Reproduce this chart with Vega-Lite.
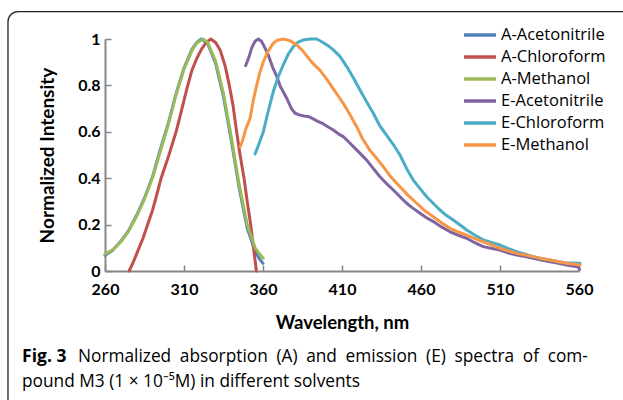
{
  "$schema": "https://vega.github.io/schema/vega-lite/v6.json",
  "width": 474,
  "height": 232,
  "autosize": "none",
  "padding": {"left": 105, "top": 39, "right": 44, "bottom": 129},
  "background": "white",
  "config": {"view": {"stroke": null}, "font": "Lato"},
  "data": {"values": [
    {"s":"A-Acetonitrile","w":260,"v":0.068},{"s":"A-Acetonitrile","w":265,"v":0.09},{"s":"A-Acetonitrile","w":270,"v":0.128},{"s":"A-Acetonitrile","w":275,"v":0.175},{"s":"A-Acetonitrile","w":280,"v":0.24},{"s":"A-Acetonitrile","w":285,"v":0.315},{"s":"A-Acetonitrile","w":290,"v":0.405},{"s":"A-Acetonitrile","w":295,"v":0.525},{"s":"A-Acetonitrile","w":300,"v":0.635},{"s":"A-Acetonitrile","w":305,"v":0.765},{"s":"A-Acetonitrile","w":310,"v":0.875},{"s":"A-Acetonitrile","w":315,"v":0.955},{"s":"A-Acetonitrile","w":318,"v":0.985},{"s":"A-Acetonitrile","w":321,"v":1.0},{"s":"A-Acetonitrile","w":325,"v":0.98},{"s":"A-Acetonitrile","w":330,"v":0.895},{"s":"A-Acetonitrile","w":335,"v":0.75},{"s":"A-Acetonitrile","w":340,"v":0.56},{"s":"A-Acetonitrile","w":345,"v":0.355},{"s":"A-Acetonitrile","w":350,"v":0.185},{"s":"A-Acetonitrile","w":355,"v":0.085},{"s":"A-Acetonitrile","w":358,"v":0.05},{"s":"A-Acetonitrile","w":360,"v":0.033},
    {"s":"A-Chloroform","w":275.3,"v":0.0},{"s":"A-Chloroform","w":278,"v":0.04},{"s":"A-Chloroform","w":281,"v":0.09},{"s":"A-Chloroform","w":284,"v":0.14},{"s":"A-Chloroform","w":287,"v":0.2},{"s":"A-Chloroform","w":290,"v":0.26},{"s":"A-Chloroform","w":293,"v":0.335},{"s":"A-Chloroform","w":295.5,"v":0.4},{"s":"A-Chloroform","w":300,"v":0.49},{"s":"A-Chloroform","w":305,"v":0.6},{"s":"A-Chloroform","w":308,"v":0.68},{"s":"A-Chloroform","w":312,"v":0.79},{"s":"A-Chloroform","w":315,"v":0.865},{"s":"A-Chloroform","w":318,"v":0.915},{"s":"A-Chloroform","w":321,"v":0.955},{"s":"A-Chloroform","w":324,"v":0.985},{"s":"A-Chloroform","w":327,"v":1.0},{"s":"A-Chloroform","w":330,"v":0.985},{"s":"A-Chloroform","w":333,"v":0.95},{"s":"A-Chloroform","w":336,"v":0.885},{"s":"A-Chloroform","w":338.7,"v":0.8},{"s":"A-Chloroform","w":341,"v":0.715},{"s":"A-Chloroform","w":343.3,"v":0.6},{"s":"A-Chloroform","w":345.5,"v":0.5},{"s":"A-Chloroform","w":348,"v":0.4},{"s":"A-Chloroform","w":350,"v":0.3},{"s":"A-Chloroform","w":352.2,"v":0.2},{"s":"A-Chloroform","w":354,"v":0.1},{"s":"A-Chloroform","w":355.8,"v":0.0},
    {"s":"A-Methanol","w":260,"v":0.073},{"s":"A-Methanol","w":265,"v":0.092},{"s":"A-Methanol","w":270,"v":0.125},{"s":"A-Methanol","w":275,"v":0.172},{"s":"A-Methanol","w":280,"v":0.235},{"s":"A-Methanol","w":285,"v":0.31},{"s":"A-Methanol","w":290,"v":0.4},{"s":"A-Methanol","w":295,"v":0.515},{"s":"A-Methanol","w":300,"v":0.63},{"s":"A-Methanol","w":305,"v":0.76},{"s":"A-Methanol","w":310,"v":0.87},{"s":"A-Methanol","w":315,"v":0.95},{"s":"A-Methanol","w":318,"v":0.982},{"s":"A-Methanol","w":322,"v":1.0},{"s":"A-Methanol","w":325,"v":0.985},{"s":"A-Methanol","w":330,"v":0.905},{"s":"A-Methanol","w":335,"v":0.765},{"s":"A-Methanol","w":340,"v":0.575},{"s":"A-Methanol","w":345,"v":0.37},{"s":"A-Methanol","w":350,"v":0.2},{"s":"A-Methanol","w":355,"v":0.1},{"s":"A-Methanol","w":358,"v":0.072},{"s":"A-Methanol","w":360.2,"v":0.055},
    {"s":"E-Acetonitrile","w":349,"v":0.885},{"s":"E-Acetonitrile","w":351,"v":0.92},{"s":"E-Acetonitrile","w":353,"v":0.965},{"s":"E-Acetonitrile","w":355,"v":0.99},{"s":"E-Acetonitrile","w":357,"v":1.0},{"s":"E-Acetonitrile","w":359,"v":0.99},{"s":"E-Acetonitrile","w":361,"v":0.965},{"s":"E-Acetonitrile","w":363.4,"v":0.93},{"s":"E-Acetonitrile","w":366,"v":0.88},{"s":"E-Acetonitrile","w":368.6,"v":0.84},{"s":"E-Acetonitrile","w":371,"v":0.795},{"s":"E-Acetonitrile","w":375,"v":0.745},{"s":"E-Acetonitrile","w":378,"v":0.7},{"s":"E-Acetonitrile","w":380.3,"v":0.68},{"s":"E-Acetonitrile","w":383.4,"v":0.672},{"s":"E-Acetonitrile","w":386,"v":0.668},{"s":"E-Acetonitrile","w":389,"v":0.665},{"s":"E-Acetonitrile","w":392,"v":0.655},{"s":"E-Acetonitrile","w":395,"v":0.644},{"s":"E-Acetonitrile","w":398,"v":0.635},{"s":"E-Acetonitrile","w":401,"v":0.622},{"s":"E-Acetonitrile","w":404.5,"v":0.608},{"s":"E-Acetonitrile","w":408,"v":0.59},{"s":"E-Acetonitrile","w":410.8,"v":0.579},{"s":"E-Acetonitrile","w":414,"v":0.558},{"s":"E-Acetonitrile","w":417.2,"v":0.536},{"s":"E-Acetonitrile","w":421,"v":0.51},{"s":"E-Acetonitrile","w":425.6,"v":0.478},{"s":"E-Acetonitrile","w":430,"v":0.44},{"s":"E-Acetonitrile","w":434,"v":0.406},{"s":"E-Acetonitrile","w":438,"v":0.378},{"s":"E-Acetonitrile","w":442.5,"v":0.349},{"s":"E-Acetonitrile","w":447,"v":0.318},{"s":"E-Acetonitrile","w":450.9,"v":0.292},{"s":"E-Acetonitrile","w":455,"v":0.27},{"s":"E-Acetonitrile","w":459.4,"v":0.249},{"s":"E-Acetonitrile","w":463,"v":0.232},{"s":"E-Acetonitrile","w":467.8,"v":0.213},{"s":"E-Acetonitrile","w":473,"v":0.19},{"s":"E-Acetonitrile","w":478.4,"v":0.169},{"s":"E-Acetonitrile","w":484,"v":0.153},{"s":"E-Acetonitrile","w":488.9,"v":0.141},{"s":"E-Acetonitrile","w":494,"v":0.122},{"s":"E-Acetonitrile","w":499.4,"v":0.105},{"s":"E-Acetonitrile","w":505,"v":0.097},{"s":"E-Acetonitrile","w":510,"v":0.09},{"s":"E-Acetonitrile","w":515,"v":0.078},{"s":"E-Acetonitrile","w":520.6,"v":0.069},{"s":"E-Acetonitrile","w":526,"v":0.062},{"s":"E-Acetonitrile","w":531,"v":0.055},{"s":"E-Acetonitrile","w":536,"v":0.047},{"s":"E-Acetonitrile","w":541.6,"v":0.04},{"s":"E-Acetonitrile","w":547,"v":0.033},{"s":"E-Acetonitrile","w":552,"v":0.026},{"s":"E-Acetonitrile","w":557,"v":0.02},{"s":"E-Acetonitrile","w":559.5,"v":0.018},{"s":"E-Acetonitrile","w":560.3,"v":0.007},
    {"s":"E-Chloroform","w":355,"v":0.505},{"s":"E-Chloroform","w":357,"v":0.54},{"s":"E-Chloroform","w":360.2,"v":0.6},{"s":"E-Chloroform","w":363,"v":0.68},{"s":"E-Chloroform","w":366.5,"v":0.773},{"s":"E-Chloroform","w":369.5,"v":0.835},{"s":"E-Chloroform","w":372.8,"v":0.888},{"s":"E-Chloroform","w":376,"v":0.935},{"s":"E-Chloroform","w":379.2,"v":0.967},{"s":"E-Chloroform","w":382,"v":0.985},{"s":"E-Chloroform","w":385.5,"v":0.996},{"s":"E-Chloroform","w":389.7,"v":1.0},{"s":"E-Chloroform","w":394,"v":1.0},{"s":"E-Chloroform","w":398,"v":0.985},{"s":"E-Chloroform","w":402.4,"v":0.965},{"s":"E-Chloroform","w":404.5,"v":0.953},{"s":"E-Chloroform","w":408.7,"v":0.925},{"s":"E-Chloroform","w":413,"v":0.881},{"s":"E-Chloroform","w":417,"v":0.835},{"s":"E-Chloroform","w":421.4,"v":0.78},{"s":"E-Chloroform","w":425.5,"v":0.73},{"s":"E-Chloroform","w":429.8,"v":0.68},{"s":"E-Chloroform","w":434,"v":0.625},{"s":"E-Chloroform","w":438.3,"v":0.585},{"s":"E-Chloroform","w":442.5,"v":0.545},{"s":"E-Chloroform","w":446.7,"v":0.5},{"s":"E-Chloroform","w":451,"v":0.44},{"s":"E-Chloroform","w":455.1,"v":0.392},{"s":"E-Chloroform","w":459.4,"v":0.355},{"s":"E-Chloroform","w":463.6,"v":0.32},{"s":"E-Chloroform","w":468,"v":0.29},{"s":"E-Chloroform","w":472,"v":0.263},{"s":"E-Chloroform","w":476,"v":0.24},{"s":"E-Chloroform","w":480.4,"v":0.22},{"s":"E-Chloroform","w":485,"v":0.197},{"s":"E-Chloroform","w":488.9,"v":0.177},{"s":"E-Chloroform","w":494,"v":0.155},{"s":"E-Chloroform","w":499.4,"v":0.134},{"s":"E-Chloroform","w":505,"v":0.122},{"s":"E-Chloroform","w":510,"v":0.112},{"s":"E-Chloroform","w":515,"v":0.097},{"s":"E-Chloroform","w":520.6,"v":0.083},{"s":"E-Chloroform","w":526,"v":0.072},{"s":"E-Chloroform","w":531,"v":0.062},{"s":"E-Chloroform","w":536,"v":0.054},{"s":"E-Chloroform","w":541.6,"v":0.047},{"s":"E-Chloroform","w":547,"v":0.04},{"s":"E-Chloroform","w":552,"v":0.035},{"s":"E-Chloroform","w":556,"v":0.034},{"s":"E-Chloroform","w":560.6,"v":0.033},
    {"s":"E-Methanol","w":345.5,"v":0.536},{"s":"E-Methanol","w":347,"v":0.56},{"s":"E-Methanol","w":349,"v":0.61},{"s":"E-Methanol","w":351.8,"v":0.658},{"s":"E-Methanol","w":354,"v":0.74},{"s":"E-Methanol","w":356,"v":0.8},{"s":"E-Methanol","w":358,"v":0.855},{"s":"E-Methanol","w":360.2,"v":0.902},{"s":"E-Methanol","w":363,"v":0.945},{"s":"E-Methanol","w":366.5,"v":0.981},{"s":"E-Methanol","w":369,"v":0.995},{"s":"E-Methanol","w":372.8,"v":1.0},{"s":"E-Methanol","w":377,"v":0.993},{"s":"E-Methanol","w":381.3,"v":0.975},{"s":"E-Methanol","w":385,"v":0.95},{"s":"E-Methanol","w":389.7,"v":0.91},{"s":"E-Methanol","w":393,"v":0.885},{"s":"E-Methanol","w":396,"v":0.866},{"s":"E-Methanol","w":400,"v":0.83},{"s":"E-Methanol","w":404.5,"v":0.785},{"s":"E-Methanol","w":408,"v":0.75},{"s":"E-Methanol","w":410.8,"v":0.723},{"s":"E-Methanol","w":415,"v":0.675},{"s":"E-Methanol","w":419.3,"v":0.622},{"s":"E-Methanol","w":423,"v":0.57},{"s":"E-Methanol","w":427.7,"v":0.52},{"s":"E-Methanol","w":432,"v":0.485},{"s":"E-Methanol","w":436.1,"v":0.45},{"s":"E-Methanol","w":441,"v":0.405},{"s":"E-Methanol","w":446.7,"v":0.363},{"s":"E-Methanol","w":452,"v":0.325},{"s":"E-Methanol","w":457.3,"v":0.292},{"s":"E-Methanol","w":462,"v":0.262},{"s":"E-Methanol","w":467.8,"v":0.234},{"s":"E-Methanol","w":473,"v":0.208},{"s":"E-Methanol","w":478.4,"v":0.184},{"s":"E-Methanol","w":484,"v":0.167},{"s":"E-Methanol","w":488.9,"v":0.155},{"s":"E-Methanol","w":494,"v":0.14},{"s":"E-Methanol","w":499.4,"v":0.126},{"s":"E-Methanol","w":505,"v":0.112},{"s":"E-Methanol","w":510,"v":0.098},{"s":"E-Methanol","w":515,"v":0.087},{"s":"E-Methanol","w":520.6,"v":0.076},{"s":"E-Methanol","w":526,"v":0.069},{"s":"E-Methanol","w":531,"v":0.062},{"s":"E-Methanol","w":536,"v":0.054},{"s":"E-Methanol","w":541.6,"v":0.047},{"s":"E-Methanol","w":547,"v":0.04},{"s":"E-Methanol","w":552,"v":0.033},{"s":"E-Methanol","w":556,"v":0.03},{"s":"E-Methanol","w":560.6,"v":0.026}
  ]},
  "layer": [
    {
      "data": {"values": [{}]},
      "mark": {"type": "rect", "filled": false, "stroke": "#222222", "strokeWidth": 1.3, "cornerRadius": 10, "clip": false},
      "encoding": {
        "x": {"datum": 198.6, "type": "quantitative"},
        "x2": {"datum": 720},
        "y": {"datum": 1.118, "type": "quantitative"},
        "y2": {"datum": -0.75}
      }
    },
    {
      "mark": {"type": "line", "strokeWidth": 3, "strokeJoin": "round", "strokeCap": "round"},
      "encoding": {
        "x": {
          "field": "w", "type": "quantitative",
          "scale": {"domain": [260, 560], "nice": false, "zero": false},
          "axis": {
            "values": [260, 310, 360, 410, 460, 510, 560],
            "title": "Wavelength, nm",
            "titleFont": "Lato", "titleFontSize": 18.5, "titleFontWeight": "bold", "titleColor": "#000000", "titlePadding": 16,
            "labelFont": "Lato", "labelFontSize": 16, "labelFontWeight": "bold", "labelColor": "#000000", "labelPadding": 16,
            "labelFlush": false, "labelOverlap": false,
            "domainColor": "#868686", "domainWidth": 2,
            "tickColor": "#868686", "tickWidth": 1.5, "tickSize": -6,
            "grid": false
          }
        },
        "y": {
          "field": "v", "type": "quantitative",
          "scale": {"domain": [0, 1], "nice": false},
          "axis": {
            "values": [0, 0.2, 0.4, 0.6, 0.8, 1],
            "format": "~g",
            "title": "Normalized Intensity",
            "titleFont": "Lato", "titleFontSize": 19, "titleFontWeight": "bold", "titleColor": "#000000", "titlePadding": 20,
            "labelFont": "Lato", "labelFontSize": 16, "labelFontWeight": "bold", "labelColor": "#000000", "labelPadding": 11,
            "labelFlush": false, "labelOverlap": false,
            "domainColor": "#868686", "domainWidth": 2,
            "tickColor": "#868686", "tickWidth": 1.5, "tickSize": -6,
            "grid": false
          }
        },
        "color": {
          "field": "s", "type": "nominal",
          "scale": {
            "domain": ["A-Acetonitrile", "A-Chloroform", "A-Methanol", "E-Acetonitrile", "E-Chloroform", "E-Methanol"],
            "range": ["#4F81BD", "#C0504D", "#9BBB59", "#8064A2", "#4BACC6", "#F79646"]
          },
          "legend": {
            "title": null, "orient": "none", "legendX": 365, "legendY": -14,
            "symbolType": "M-2,0H2", "symbolSize": 256, "symbolStrokeWidth": 3.5,
            "labelFont": "Open Sans", "labelFontSize": 16.5, "labelColor": "#000000", "labelOffset": 11,
            "rowPadding": 3
          }
        }
      }
    },
    {
      "data": {"values": [{}]},
      "mark": {"type": "text", "text": "Fig. 3", "font": "Open Sans", "fontWeight": "bold", "fontSize": 17.5, "align": "left", "baseline": "alphabetic", "color": "#000000", "clip": false},
      "encoding": {"x": {"datum": 207.5, "type": "quantitative"}, "y": {"datum": -0.392, "type": "quantitative"}}
    },
    {
      "data": {"values": [{}]},
      "mark": {"type": "text", "text": "Normalized\u2002absorption\u2002(A)\u2002and\u2002emission\u2002(E)\u2002spectra\u2002of\u2002com-", "font": "Open Sans", "fontSize": 17.3, "align": "left", "baseline": "alphabetic", "color": "#000000", "clip": false},
      "encoding": {"x": {"datum": 242.9, "type": "quantitative"}, "y": {"datum": -0.392, "type": "quantitative"}}
    },
    {
      "data": {"values": [{}]},
      "mark": {"type": "text", "text": "pound M3 (1 × 10⁻⁵M) in different solvents", "font": "Open Sans", "fontSize": 17.3, "align": "left", "baseline": "alphabetic", "color": "#000000", "clip": false},
      "encoding": {"x": {"datum": 207.5, "type": "quantitative"}, "y": {"datum": -0.5, "type": "quantitative"}}
    }
  ]
}
